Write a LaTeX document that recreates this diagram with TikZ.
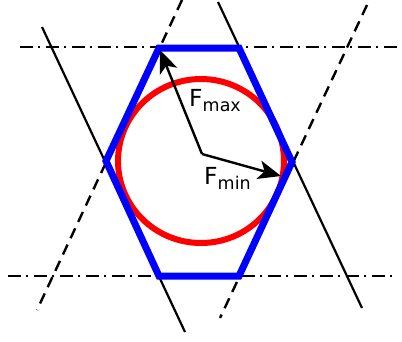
\documentclass[tikz,border=0pt]{standalone}
\usepackage{fontspec}
\setmainfont{DejaVu Sans}
\usetikzlibrary{calc}
\begin{document}
\begin{tikzpicture}[x=1pt,y=-1pt,
  hexline/.style={draw=blue,line width=7pt,line join=miter},
  circline/.style={draw=red,line width=6pt},
  solidline/.style={draw=black,line width=2.2pt},
  dashline/.style={draw=black,line width=2.4pt,dash pattern=on 11pt off 7pt},
  dotdashline/.style={draw=black,line width=2.4pt,dash pattern=on 13pt off 5pt on 2pt off 6pt},
  force/.style={draw=black,line width=2.4pt},
  headfill/.style={fill=black,draw=none},
  lbl/.style={inner sep=0pt,anchor=base west,font=\fontsize{23.5}{23.5}\selectfont}]
\useasboundingbox (0,0) rectangle (402,341);
% hexagon vertices
\coordinate (A) at (159,48);
\coordinate (B) at (239,48);
\coordinate (C) at (292,162);
\coordinate (D) at (239,276);
\coordinate (E) at (159,276);
\coordinate (F) at (106,161);
\coordinate (O) at (202,154);
\coordinate (M) at (201,161);
% construction lines
\coordinate (t1) at (20,47);  \coordinate (t2) at (402,47);
\coordinate (b1) at (8,276);  \coordinate (b2) at (396,276);
\coordinate (s1a) at (42,27); \coordinate (s1b) at (185,332);
\coordinate (s2a) at (218,2); \coordinate (s2b) at (362,308);
\coordinate (d1a) at (182,0); \coordinate (d1b) at (37,310);
\coordinate (d2a) at (367,5); \coordinate (d2b) at (220,318);
\draw[dotdashline] (t1) -- (t2);
\draw[dotdashline] (b1) -- (b2);
\draw[solidline] (s1a) -- (s1b);
\draw[solidline] (s2a) -- (s2b);
\draw[dashline] (d1a) -- (d1b);
\draw[dashline] (d2a) -- (d2b);
% circle
\draw[circline] (M) circle[x radius=83pt,y radius=82pt];
% hexagon
\draw[hexline] (A) -- (B) -- (C) -- (D) -- (E) -- (F) -- cycle;
% forces
\coordinate (Pmin) at (281,176);
\coordinate (Pmax) at (160,50);
\foreach \tip in {Pmax,Pmin}{
  \coordinate (\tip-in) at ($(\tip)!17pt!(O)$);
  \coordinate (\tip-bk) at ($(\tip)!23pt!(O)$);
  \draw[force] (O) -- (\tip-in);
  \fill[headfill] (\tip) -- ($(\tip-bk)!9.5pt!90:(\tip)$) -- (\tip-in) -- ($(\tip-bk)!9.5pt!-90:(\tip)$) -- cycle;
}
\node[lbl] (fmax) at (189,106.5) {F\raisebox{-5pt}{\fontsize{17.5}{17.5}\selectfont max}};
\node[lbl] (fmin) at (204,184) {F\raisebox{-5pt}{\fontsize{17.5}{17.5}\selectfont min}};
\end{tikzpicture}
\end{document}
